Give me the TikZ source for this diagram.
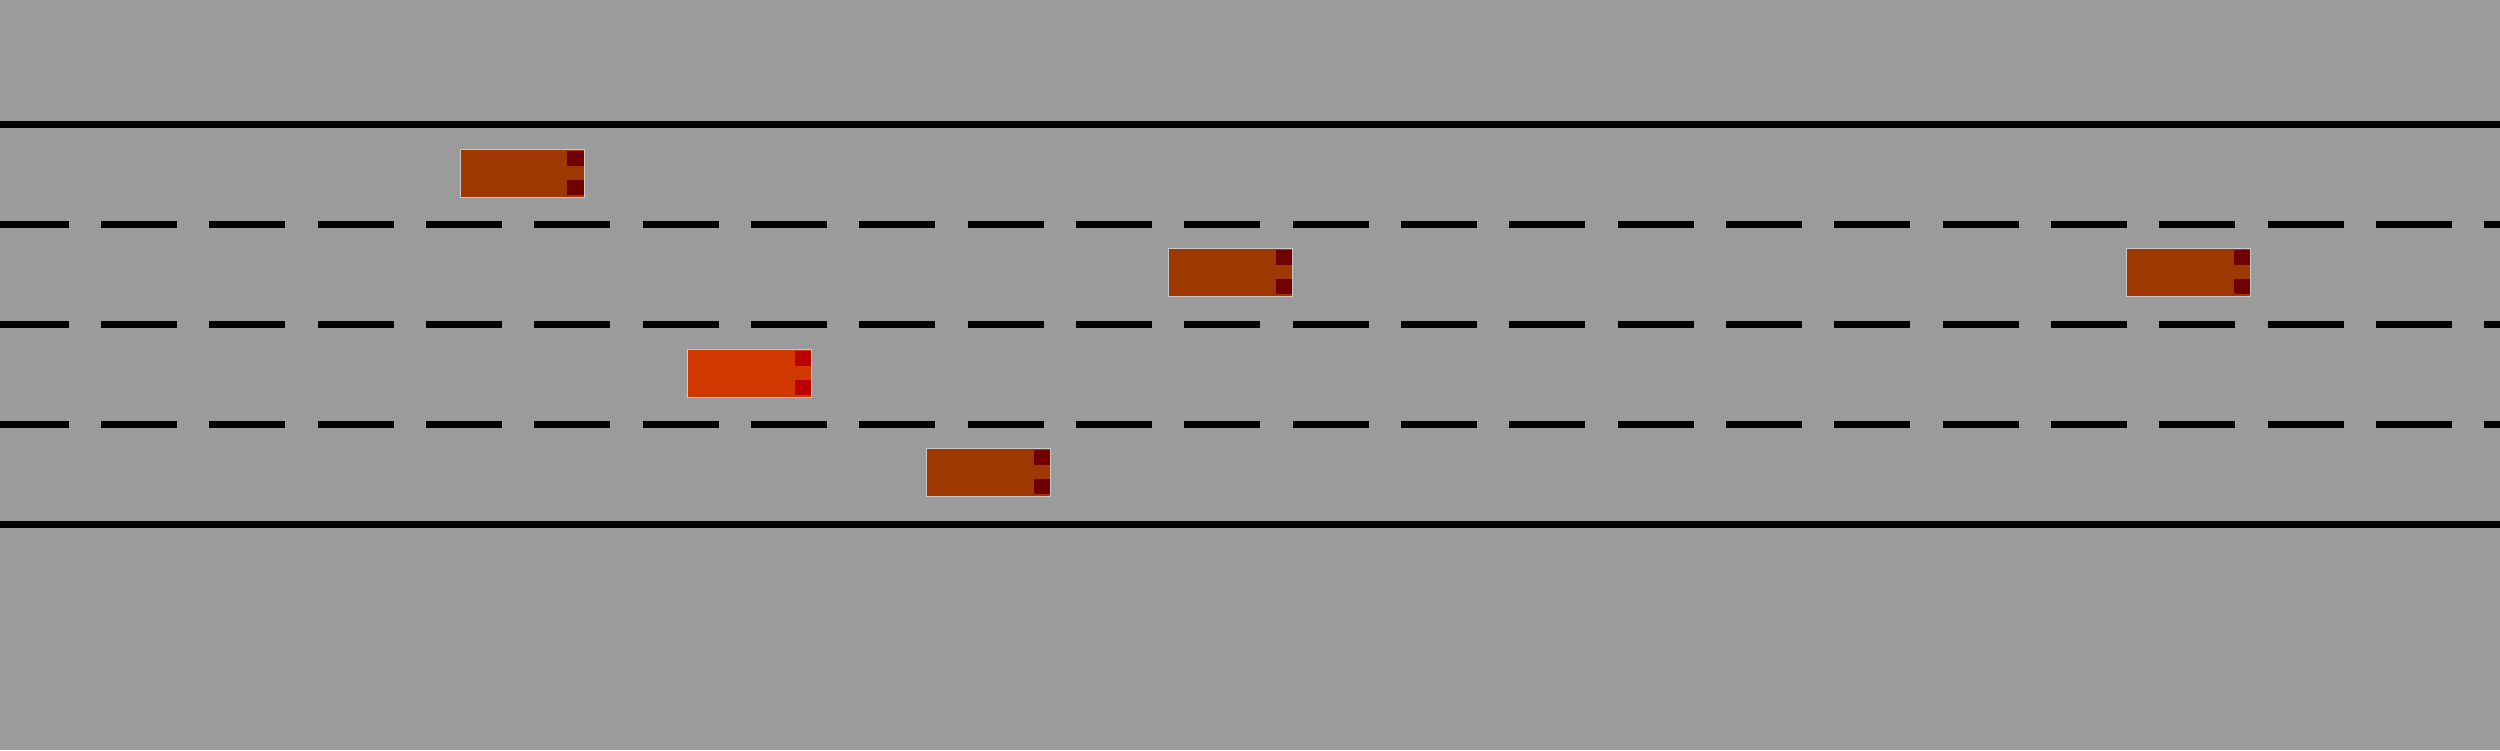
\documentclass[tikz,border=0pt]{standalone}
\usetikzlibrary{calc}
\definecolor{road}{RGB}{155,155,155}
\definecolor{carbody}{RGB}{158,56,0}
\definecolor{carlight}{RGB}{110,0,0}
\definecolor{egobody}{RGB}{208,56,0}
\definecolor{egolight}{RGB}{186,0,0}
\definecolor{carrim}{RGB}{200,200,200}
\tikzset{
  solidline/.style={line width=0.07cm, black},
  laneline/.style={line width=0.07cm, black, dash pattern=on 0.76cm off 0.3227cm, dash phase=0.073cm},
  carbox/.style={rectangle, draw=carrim, line width=0.01cm, minimum width=1.234cm, minimum height=0.48cm, inner sep=0pt, fill=carbody},
  egobox/.style={carbox, fill=egobody},
}
\begin{document}
\begin{tikzpicture}[x=0.01cm, y=-0.01cm]
\fill[road] (0,0) rectangle (2500,750);
\useasboundingbox (0,0) rectangle (2500,750);
\coordinate (tl) at (0,124.5);  \coordinate (tr) at (2500,124.5);
\coordinate (bl) at (0,524.5);  \coordinate (br) at (2500,524.5);
\coordinate (l1l) at (0,224.5); \coordinate (l1r) at (2500,224.5);
\coordinate (l2l) at (0,324.5); \coordinate (l2r) at (2500,324.5);
\coordinate (l3l) at (0,424.5); \coordinate (l3r) at (2500,424.5);
\draw[solidline] (tl) -- (tr);
\draw[solidline] (bl) -- (br);
\draw[laneline] (l1l) -- (l1r);
\draw[laneline] (l2l) -- (l2r);
\draw[laneline] (l3l) -- (l3r);
% cars
\node[carbox] (c1) at (522.3,173.8) {};
\node[carbox] (c2) at (1230.5,272.8) {};
\node[carbox] (c3) at (2188.5,272.8) {};
\node[egobox] (ego) at (749.5,373.8) {};
\node[carbox] (c4) at (988.5,472.8) {};
\foreach \c in {c1,c2,c3,c4}{
  \fill[carlight] ($(\c.center)+(45,-22.8)$) rectangle ($(\c.center)+(61.7,-8.1)$);
  \fill[carlight] ($(\c.center)+(45,6.2)$) rectangle ($(\c.center)+(61.7,21.2)$);
}
\fill[egolight] ($(ego.center)+(45,-22.8)$) rectangle ($(ego.center)+(61.7,-8.1)$);
\fill[egolight] ($(ego.center)+(45,6.2)$) rectangle ($(ego.center)+(61.7,21.2)$);
\end{tikzpicture}
\end{document}
